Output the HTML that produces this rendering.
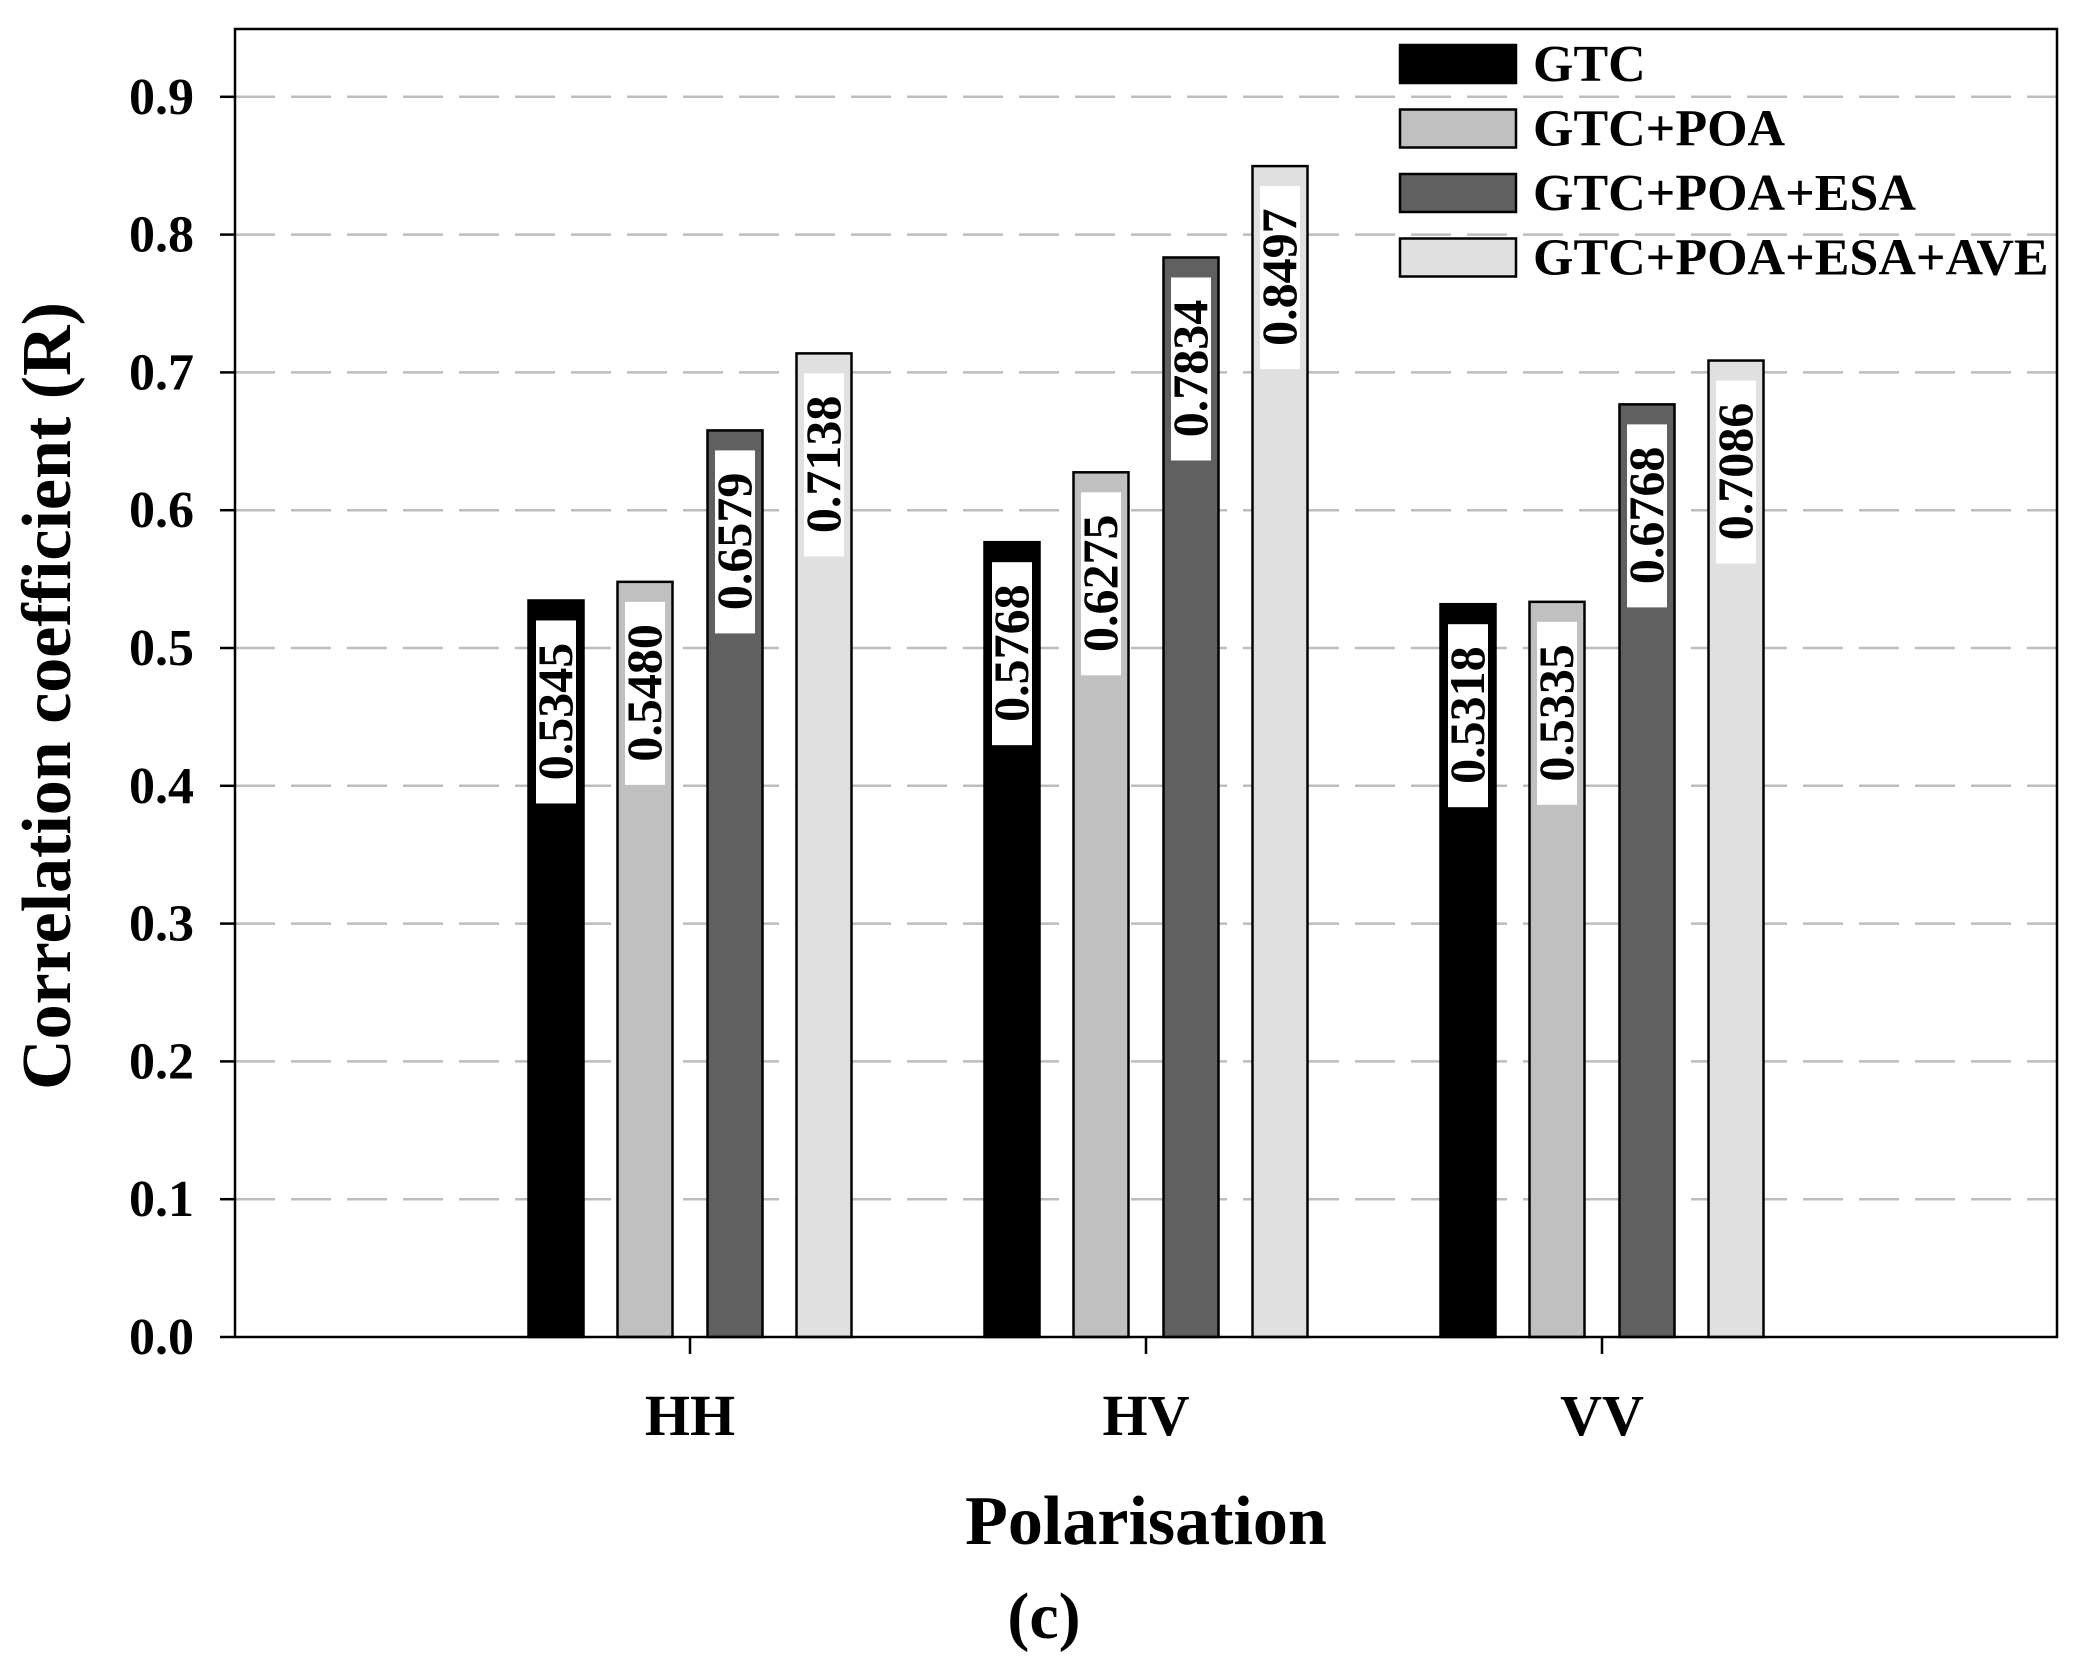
<!DOCTYPE html>
<html><head><meta charset="utf-8"><style>
body{margin:0;background:#fff}
svg{display:block;font-family:"Liberation Serif",serif;font-weight:bold}
</style></head><body>
<svg id="chart" width="2088" height="1669" viewBox="0 0 2088 1669">
<g id="grid"></g>
<g id="bars"></g>
<rect x="235" y="29" width="1822" height="1308" fill="none" stroke="#000" stroke-width="2.5"/>
<g id="yticks"></g>
<g id="xticks"></g>
<text x="1146" y="1544" font-size="70" text-anchor="middle">Polarisation</text>
<text x="1044" y="1638" font-size="66" text-anchor="middle">(c)</text>
<text transform="translate(70,696) rotate(-90)" font-size="70" text-anchor="middle">Correlation coefficient (R)</text>
<g id="legend"></g>
</svg>
<script>
const categories=["HH","HV","VV"];
const seriesNames=["GTC","GTC+POA","GTC+POA+ESA","GTC+POA+ESA+AVE"];
const gtc=[0.5345,0.5768,0.5318];
const gtcPoa=[0.5480,0.6275,0.5335];
const gtcPoaEsa=[0.6579,0.7834,0.6768];
const gtcPoaEsaAve=[0.7138,0.8497,0.7086];
const yTicks=[0,0.1,0.2,0.3,0.4,0.5,0.6,0.7,0.8,0.9];
const fills=["#000000","#c0c0c0","#606060","#e0e0e0"];
const series=[gtc,gtcPoa,gtcPoaEsa,gtcPoaEsaAve];
const NS="http://www.w3.org/2000/svg";
const y=v=>1337-v*1378;
const xc=i=>690+i*456;
const off=[-134,-45,45,134];
function mk(t,a,p){const e=document.createElementNS(NS,t);for(const k in a)e.setAttribute(k,a[k]);p.appendChild(e);return e;}
const grid=document.getElementById('grid'),yt=document.getElementById('yticks'),xt=document.getElementById('xticks'),bars=document.getElementById('bars'),lg=document.getElementById('legend');
yTicks.forEach(t=>{
 if(t>0){const g=mk('line',{x1:235,x2:2057,y1:y(t),y2:y(t),stroke:'#bdbdbd','stroke-width':2.5,'stroke-dasharray':'40 16'},grid);
 
 }
 const tk=mk('line',{x1:220,x2:235,y1:y(t),y2:y(t),stroke:'#000','stroke-width':2.5},yt);
 
 
 const l=mk('text',{x:194,y:y(t)+17,'font-size':52,'text-anchor':'end'},yt);l.textContent=t.toFixed(1);
 
 
});
categories.forEach((c,i)=>{
 const tk=mk('line',{x1:xc(i),x2:xc(i),y1:1337,y2:1354,stroke:'#000','stroke-width':2.5},xt);
 
 
 const l=mk('text',{x:xc(i),y:1435,'font-size':58,'text-anchor':'middle'},xt);l.textContent=c;
 
 
 series.forEach((s,j)=>{
  const v=s[i],cx=xc(i)+off[j],w=55,top=y(v);
  const r=mk('rect',{x:cx-w/2,y:top,width:w,height:1337-top,fill:fills[j],stroke:'#000','stroke-width':2.5},bars);
  
  
  const bx=mk('rect',{x:cx-20,y:top+20,width:40,height:183,fill:'#fff'},bars);
  
  
  const t=mk('text',{transform:`translate(${cx+16},${top+111}) rotate(-90)`,'font-size':50,'text-anchor':'middle'},bars);
  t.textContent=v.toFixed(4);
  
  
 });
});
seriesNames.forEach((n,j)=>{
 const yy=64+j*64.5;
 const r=mk('rect',{x:1400,y:yy-19,width:116,height:38,fill:fills[j],stroke:'#000','stroke-width':2.5},lg);
 
 
 const t=mk('text',{x:1533,y:yy+17,'font-size':52},lg);t.textContent=n;
 
 
});
</script>
</body></html>
